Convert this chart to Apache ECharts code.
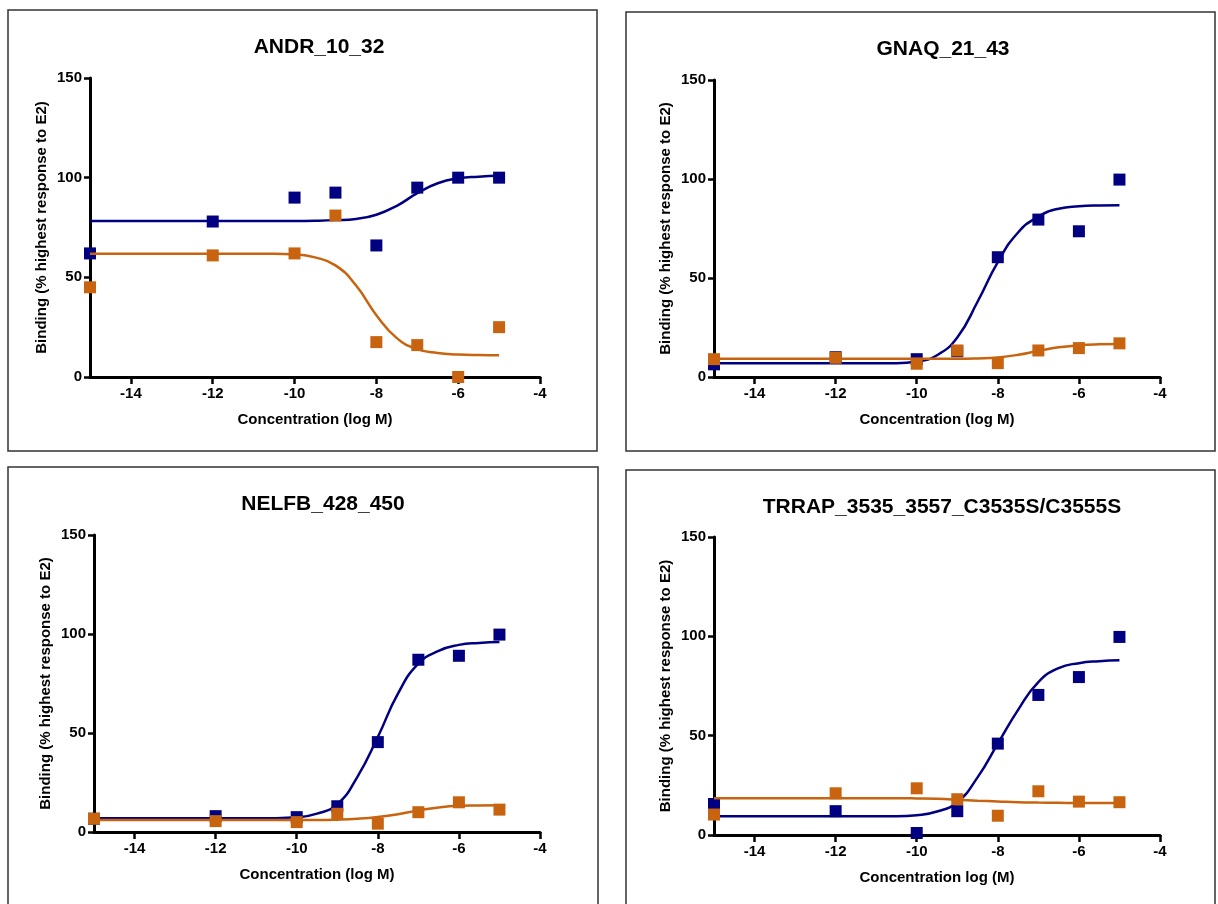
<!DOCTYPE html>
<html>
<head>
<meta charset="utf-8">
<script src="https://cdn.jsdelivr.net/npm/echarts@6/dist/echarts.min.js"></script>
<style>
  html, body { margin: 0; padding: 0; background: #fff; }
  #chart { width: 1218px; height: 904px; }
</style>
</head>
<body>
<div id="chart"></div>
<script>
// measured concentrations (log M)
const concX = [-15, -12, -10, -9, -8, -7, -6, -5];
const curveX = [-15, -14.5, -14, -13.5, -13, -12.5, -12, -11.5, -11, -10.5,
                -10, -9.5, -9, -8.5, -8, -7.5, -7, -6.5, -6, -5.5, -5];
const xTicks = [-14, -12, -10, -8, -6, -4];

// ANDR_10_32
const andrBlue = [62, 78, 90, 92.5, 66, 95, 100, 100];
const andrOrange = [45, 61, 62, 81, 17.5, 16, 0, 25];
const andrBlueFit = [78.3, 78.3, 78.3, 78.3, 78.3, 78.3, 78.3, 78.3, 78.3, 78.3,
                     78.3, 78.4, 78.7, 79.3, 81.4, 85.9, 92.2, 97.2, 99.7, 100.5, 100.9];
const andrOrangeFit = [61.8, 61.8, 61.8, 61.8, 61.8, 61.8, 61.8, 61.8, 61.8, 61.8,
                       61.5, 60, 56, 46, 31, 19.5, 14, 12, 11.3, 11, 10.9];

// GNAQ_21_43
const gnaqBlue = [6.4, 10, 9, 13, 60.5, 79.5, 73.6, 99.7];
const gnaqOrange = [9, 9.7, 6.7, 13.4, 7, 13.4, 14.6, 17];
const gnaqBlueFit = [7, 7, 7, 7, 7, 7, 7, 7, 7, 7,
                     7.8, 11, 20, 38, 58, 73, 81, 85, 86.2, 86.6, 86.7];
const gnaqOrangeFit = [9.2, 9.2, 9.2, 9.2, 9.2, 9.2, 9.2, 9.2, 9.2, 9.2,
                       9.2, 9.2, 9.2, 9.4, 9.9, 11.2, 13.2, 15, 16, 16.5, 16.7];

// NELFB_428_450
const nelfbBlue = [6.7, 8, 7.5, 13, 45.4, 87, 89, 99.7];
const nelfbOrange = [6.7, 5.5, 5, 9.2, 4.2, 10, 15, 11.3];
const nelfbBlueFit = [7, 7, 7, 7, 7, 7, 7, 7, 7, 7,
                      7.4, 9.3, 14, 28, 48, 70, 85, 91.5, 94.5, 95.5, 96];
const nelfbOrangeFit = [6, 6, 6, 6, 6, 6, 6, 6, 6, 6,
                        6, 6, 6.2, 6.7, 7.6, 9, 10.9, 12.4, 13.2, 13.4, 13.5];

// TRRAP_3535_3557_C3535S/C3555S
const trrapBlue = [15.6, 12, 1, 12, 46, 70.5, 79.5, 99.7];
const trrapOrange = [10.3, 21, 23.5, 18, 9.7, 22, 16.8, 16.5];
const trrapBlueFit = [9.5, 9.5, 9.5, 9.5, 9.5, 9.5, 9.5, 9.5, 9.5, 9.5,
                      10, 11.8, 16.5, 29, 46, 63, 77, 84, 86.5, 87.5, 88];
const trrapOrangeFit = [18.5, 18.5, 18.5, 18.5, 18.5, 18.5, 18.5, 18.5, 18.5, 18.5,
                        18.4, 18.2, 17.8, 17.3, 16.9, 16.5, 16.3, 16.2, 16.1, 16.1, 16.1];

const BLUE = '#000080';
const ORANGE = '#c8640f';
const FONT = '"Liberation Sans", Arial, sans-serif';

const panels = [
  { title: 'ANDR_10_32', xName: 'Concentration (log M)',
    blue: andrBlue, orange: andrOrange, blueFit: andrBlueFit, orangeFit: andrOrangeFit,
    box: [8, 10, 589, 441], grid: { left: 90, top: 78, width: 450, height: 299 }, titleX: 314, titleY: 32 },
  { title: 'GNAQ_21_43', xName: 'Concentration (log M)',
    blue: gnaqBlue, orange: gnaqOrange, blueFit: gnaqBlueFit, orangeFit: gnaqOrangeFit,
    box: [626, 12, 589, 439], grid: { left: 714, top: 80, width: 446, height: 297 }, titleX: 938, titleY: 34 },
  { title: 'NELFB_428_450', xName: 'Concentration (log M)',
    blue: nelfbBlue, orange: nelfbOrange, blueFit: nelfbBlueFit, orangeFit: nelfbOrangeFit,
    box: [8, 467, 590, 460], grid: { left: 94, top: 535, width: 446, height: 297 }, titleX: 318, titleY: 489 },
  { title: 'TRRAP_3535_3557_C3535S/C3555S', xName: 'Concentration log (M)',
    blue: trrapBlue, orange: trrapOrange, blueFit: trrapBlueFit, orangeFit: trrapOrangeFit,
    box: [626, 470, 589, 460], grid: { left: 714, top: 537, width: 446, height: 298 }, titleX: 937, titleY: 492 }
];

const pair = (xs, ys) => xs.map((x, i) => [x, ys[i]]);

const option = {
  animation: false,
  backgroundColor: '#fff',
  textStyle: { fontFamily: FONT },
  title: [],
  grid: [],
  xAxis: [],
  yAxis: [],
  series: [],
  graphic: []
};

panels.forEach((p, i) => {
  const g = p.grid;
  option.graphic.push({
    type: 'rect',
    shape: { x: p.box[0], y: p.box[1], width: p.box[2], height: p.box[3] },
    style: { fill: 'none', stroke: '#333', lineWidth: 1.5 },
    silent: true
  });
  option.title.push({
    text: p.title,
    left: p.titleX,
    top: p.titleY,
    textAlign: 'center',
    textStyle: { fontFamily: FONT, fontSize: 21, fontWeight: 'bold', color: '#000' }
  });
  option.grid.push({ left: g.left, top: g.top, width: g.width, height: g.height, containLabel: false });
  option.xAxis.push({
    gridIndex: i,
    type: 'value',
    min: -15,
    max: -4,
    name: p.xName,
    nameLocation: 'middle',
    nameGap: 35,
    nameTextStyle: { fontFamily: FONT, fontSize: 15, fontWeight: 'bold', color: '#000' },
    axisLine: { onZero: false, lineStyle: { color: '#000', width: 3 } },
    axisTick: { show: true, customValues: xTicks, length: 7, lineStyle: { color: '#000', width: 2.5 } },
    axisLabel: { customValues: xTicks, margin: 9, fontFamily: FONT, fontSize: 15, fontWeight: 'bold', color: '#000' },
    splitLine: { show: false }
  });
  option.yAxis.push({
    gridIndex: i,
    type: 'value',
    min: 0,
    max: 150,
    interval: 50,
    name: 'Binding (% highest response to E2)',
    nameLocation: 'middle',
    nameGap: 41,
    nameTextStyle: { fontFamily: FONT, fontSize: 15, fontWeight: 'bold', color: '#000' },
    axisLine: { show: true, lineStyle: { color: '#000', width: 3 } },
    axisTick: { show: true, length: 6, lineStyle: { color: '#000', width: 2.5 } },
    axisLabel: { margin: 8, fontFamily: FONT, fontSize: 15, fontWeight: 'bold', color: '#000' },
    splitLine: { show: false }
  });
  option.series.push(
    { type: 'line', xAxisIndex: i, yAxisIndex: i, data: pair(curveX, p.blueFit), smooth: 0.5,
      showSymbol: false, lineStyle: { color: BLUE, width: 2.5 }, z: 2 },
    { type: 'scatter', xAxisIndex: i, yAxisIndex: i, data: pair(concX, p.blue), symbol: 'rect',
      symbolSize: 12, itemStyle: { color: BLUE, opacity: 1 }, z: 3 },
    { type: 'line', xAxisIndex: i, yAxisIndex: i, data: pair(curveX, p.orangeFit), smooth: 0.5,
      showSymbol: false, lineStyle: { color: ORANGE, width: 2.5 }, z: 4 },
    { type: 'scatter', xAxisIndex: i, yAxisIndex: i, data: pair(concX, p.orange), symbol: 'rect',
      symbolSize: 12, itemStyle: { color: ORANGE, opacity: 1 }, z: 5 }
  );
});

const chart = echarts.init(document.getElementById('chart'), null, { renderer: 'canvas' });
chart.setOption(option);
</script>
</body>
</html>
